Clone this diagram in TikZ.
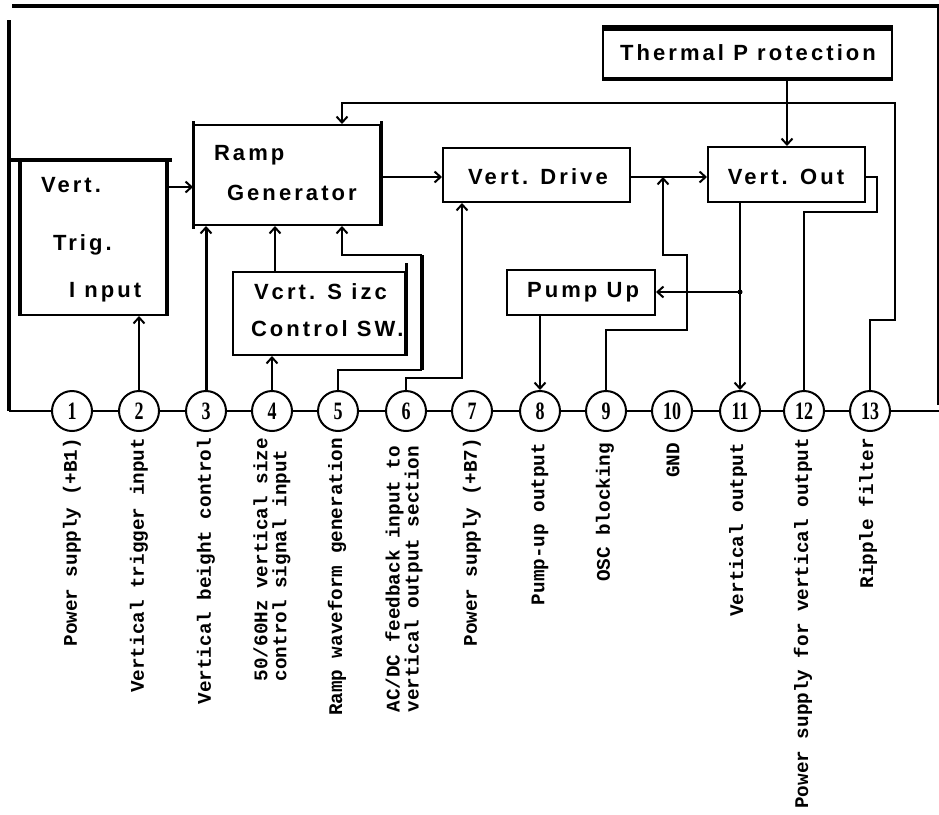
\documentclass[tikz,border=0pt]{standalone}
\usepackage{fontspec}
\usetikzlibrary{arrows.meta,calc}
\newfontfamily\boxfont[LetterSpace=14]{Liberation Sans}
\newfontfamily\pinfont[FakeStretch=0.72]{Liberation Serif}
\newfontfamily\lblfont{Liberation Mono}
\begin{document}
\begin{tikzpicture}[x=1pt,y=-1pt,line width=2pt,
  box/.style={draw,rectangle,inner sep=0pt},
  pin/.style={draw,circle,minimum size=40pt,inner sep=0pt,font=\pinfont\bfseries\fontsize{25}{25}\selectfont},
  arr/.style={-{Straight Barb[length=6pt,width=11pt]}},
  heavy/.style={line width=4pt},
  semiheavy/.style={line width=3pt},
  txt/.style={font=\boxfont\bfseries\fontsize{22}{22}\selectfont,inner sep=0pt},
  lbl/.style={rotate=90,anchor=east,font=\lblfont\bfseries\fontsize{19.3}{19}\selectfont,inner sep=0pt,align=left}]
\fill[white] (0,0) rectangle (939,814);
\useasboundingbox (0,0) rectangle (939,814);
% blocks
\node[box,minimum width=145pt,minimum height=155pt] (trig) at (93.5,237.5) {};
\node[box,minimum width=186pt,minimum height=100pt] (ramp) at (287,175) {};
\node[box,minimum width=172pt,minimum height=83pt] (size) at (319,313.5) {};
\node[box,minimum width=187pt,minimum height=54pt] (drive) at (536.5,175) {};
\node[box,minimum width=148pt,minimum height=45pt] (pump) at (581,292.5) {};
\node[box,minimum width=157pt,minimum height=55pt] (out) at (786.5,174.5) {};
\node[box,minimum width=289pt,minimum height=48pt] (therm) at (747.5,54) {};
% block texts
\node[txt,anchor=west] (tVert) at (40,185) {Vert.};
\node[txt,anchor=west] (tTrig) at (52,245) {Trig.};
\node[txt,anchor=west] (tInput) at (68,292) {I nput};
\node[txt,anchor=west] (tRamp) at (213,155) {Ramp};
\node[txt,anchor=west] (tGen) at (226,193) {Generator};
\node[txt,anchor=west] (tSize) at (253,292) {Vcrt. S izc};
\node[txt,anchor=west] (tCtrl) at (250,329) {Control SW.};
\node[txt] (tDrive) at (538,177) {Vert. Drive};
\node[txt] (tPump) at (583,292) {Pump Up};
\node[txt] (tOut) at (786,177) {Vert. Out};
\node[txt] (tTherm) at (748,53) {Thermal P rotection};
% pins
\foreach \n/\x in {1/72,2/139,3/206,4/272,5/338,6/406,7/472,8/540,9/606,10/672,11/740,12/804,13/870}
  \node[pin] (p\n) at (\x,411) {\n};
% helper coordinates
\coordinate (lcorner) at (9,411);
\coordinate (rend) at (939,411);
\coordinate (ltop) at (9,20);
\coordinate (tl) at (12,6);
\coordinate (tr) at (939,6);
\coordinate (rtop) at (937.5,6);
\coordinate (rbot) at (937.5,405);
\coordinate (tA) at (9,160);
\coordinate (tB) at (172,160);
\coordinate (yTR) at (0,187);
\coordinate (yRD) at (0,177);
\coordinate (sz) at (275,0);
\coordinate (c5a) at (338,370);
\coordinate (c5b) at (422,370);
\coordinate (c5c) at (422,255);
\coordinate (c5d) at (342,255);
\coordinate (c6a) at (406,378);
\coordinate (c6b) at (462,378);
\coordinate (c9a) at (606,330);
\coordinate (c9b) at (687,330);
\coordinate (c9c) at (687,255);
\coordinate (c9d) at (663,255);
\coordinate (c9e) at (663,177);
\coordinate (x8) at (540,0);
\coordinate (x11) at (740,0);
\coordinate (jn) at (740,292);
\coordinate (xT) at (787,0);
\coordinate (c12a) at (877,177);
\coordinate (c12b) at (877,212);
\coordinate (c12c) at (804,212);
\coordinate (c13a) at (870,320);
\coordinate (c13b) at (895,320);
\coordinate (c13c) at (895,103);
\coordinate (c13d) at (342,103);
% frame lines
\draw[heavy] (tl) -- (tr);
\draw (rtop) -- (rbot);
\draw[heavy] (ltop) -- (lcorner);
\draw[heavy] (tA) -- (tB);
\draw[heavy] (trig.north west) -- (trig.south west);
\draw[heavy] (trig.north east) -- (trig.south east);
\draw[semiheavy] ([yshift=3pt]ramp.north west) -- ([yshift=-3pt]ramp.south west);
\draw[semiheavy] ([yshift=3pt]ramp.north east) -- (ramp.south east);
\draw[semiheavy] ([yshift=8pt]size.north east) -- (size.south east);
\draw[heavy] ([yshift=2pt]therm.north west) -- ([yshift=2pt]therm.north east);
\draw[heavy] (therm.south west) -- (therm.south east);
% pin bus
\draw (lcorner) -- (p1);
\foreach \a/\b in {1/2,2/3,3/4,4/5,5/6,6/7,7/8,8/9,9/10,10/11,11/12,12/13}
  \draw (p\a) -- (p\b);
\draw (p13) -- (rend);
% connectors
\draw[arr] (p2) -- (p2 |- trig.south);
\draw[arr] (trig.east |- yTR) -- (ramp.west |- yTR);
\draw[semiheavy,-{Straight Barb[length=6pt,width=11pt,line width=2pt]}] (p3) -- (p3 |- ramp.south);
\draw[arr] (p4) -- (p4 |- size.south);
\draw[arr] (size.north -| sz) -- (ramp.south -| sz);
\draw (p5) -- (c5a) -- (c5b);
\draw[heavy] (c5b) -- (c5c);
\draw[arr] (c5c) -- (c5d) -- (c5d |- ramp.south);
\draw[arr] (p6) -- (c6a) -- (c6b) -- (c6b |- drive.south);
\draw[arr] (ramp.east |- yRD) -- (drive.west |- yRD);
\draw[arr] (drive.east |- yRD) -- (out.west |- yRD);
\draw[arr] (p9) -- (c9a) -- (c9b) -- (c9c) -- (c9d) -- (c9e);
\draw[arr] (pump.south -| x8) -- (p8);
\draw[arr] (out.south -| x11) -- (p11);
\fill (jn) circle (2.5pt);
\draw[arr] (jn) -- (pump.east |- jn);
\draw[arr] (therm.south -| xT) -- (out.north -| xT);
\draw (out.east |- c12a) -- (c12a) -- (c12b) -- (c12c) -- (p12);
\draw[arr] (p13) -- (c13a) -- (c13b) -- (c13c) -- (c13d) -- (c13d |- ramp.north);
% pin labels
\node[lbl] (l1) at (72,437) {Power supply (+B1)};
\node[lbl] (l2) at (139,437) {Vertical trigger input};
\node[lbl] (l3) at (206,437) {Vertical beight control};
\node[lbl] (l4) at (272,437) {50/60Hz vertical size\\control signal input};
\node[lbl] (l5) at (337,437) {Ramp waveform generation};
\node[lbl] (l6) at (404,445) {AC/DC feedback input to\\vertical output section};
\node[lbl] (l7) at (472,437) {Power supply (+B7)};
\node[lbl] (l8) at (540,442) {Pump-up output};
\node[lbl] (l9) at (605,442) {OSC blocking};
\node[lbl] (l10) at (673,442) {GND};
\node[lbl] (l11) at (738,442) {Vertical output};
\node[lbl] (l12) at (803,437) {Power supply for vertical output};
\node[lbl] (l13) at (868,437) {Ripple filter};
\end{tikzpicture}
\end{document}
